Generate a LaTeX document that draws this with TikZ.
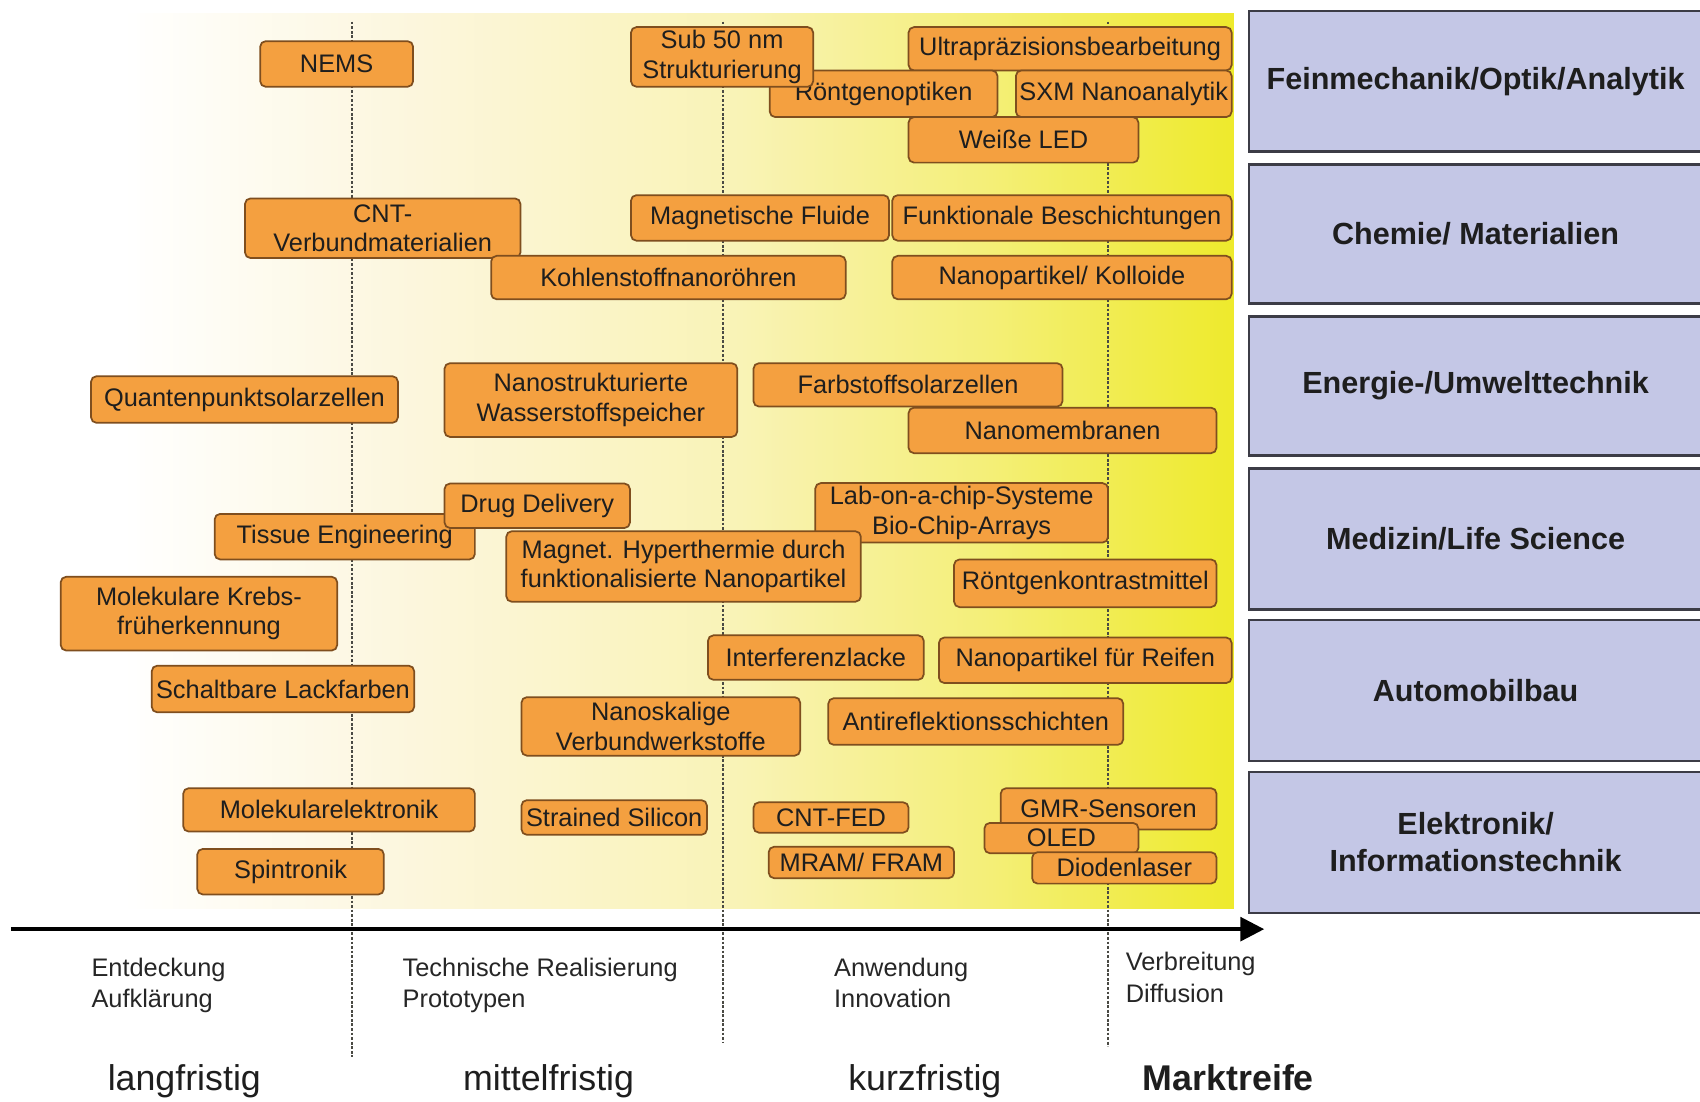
\documentclass[tikz,border=0pt]{standalone}
\usepackage{fontspec}
\setmainfont{Liberation Sans}
\usetikzlibrary{arrows.meta}
\definecolor{cTech}{HTML}{F4A040}
\definecolor{cTechLine}{HTML}{7F4E1E}
\definecolor{cBranch}{HTML}{C4C7E6}
\definecolor{cBranchLine}{HTML}{3C3C46}
\definecolor{cInk}{HTML}{1E1E1E}
\definecolor{cGuide}{HTML}{4A4A44}
\definecolor{cBgA}{HTML}{FCF6DC}
\definecolor{cBgB}{HTML}{F9F3B6}
\definecolor{cBgC}{HTML}{F4EF78}
\definecolor{cBgD}{HTML}{EEEA2C}
\pgfdeclarehorizontalshading{maturity}{100bp}{color(0bp)=(white); color(30bp)=(white); color(42bp)=(cBgA); color(55bp)=(cBgB); color(65bp)=(cBgC); color(75bp)=(cBgD); color(100bp)=(cBgD)}

\begin{document}
\begin{tikzpicture}[
    x=0.5pt, y=-0.5pt,
    font=\fontsize{11.7}{13.5}\selectfont,
    >={Triangle[length=11pt,width=11pt]},
    every node/.style={text=cInk},
    tech/.style={
        rectangle, rounded corners=2.5pt, draw=cTechLine, line width=0.8pt,
        fill=cTech, minimum height=21pt, align=center, inner sep=1.5pt
    },
    branch/.style={
        rectangle, draw=cBranchLine, line width=1.2pt, fill=cBranch,
        minimum width=209pt, minimum height=65pt, align=center,
        font=\fontsize{14.1}{17}\selectfont\bfseries
    },
    guide/.style={draw=cGuide, line width=0.9pt, dash pattern=on 1.3pt off 0.8pt},
    timeaxis/.style={->, draw=black, line width=1.6pt},
    phase/.style={anchor=north west, align=left, inner sep=0pt,
        font=\fontsize{11.7}{14.5}\selectfont, text=black!85},
    horizon/.style={anchor=base, inner sep=0pt, font=\fontsize{16.5}{18}\selectfont},
]

\useasboundingbox (0,0) rectangle (1568,1016);

% =====================================================
% Background and time axis
% =====================================================

\shade[shading=maturity] (0,12) rectangle (1138,838);

\coordinate (g1t) at (325,20);
\coordinate (g1b) at (325,975);
\coordinate (g2t) at (667,20);
\coordinate (g2b) at (667,962);
\coordinate (g3t) at (1022,20);
\coordinate (g3b) at (1022,965);
\draw[guide] (g1t) -- (g1b);
\draw[guide] (g2t) -- (g2b);
\draw[guide] (g3t) -- (g3b);

\coordinate (axisL) at (10,857);
\coordinate (axisR) at (1166,857);
\draw[timeaxis] (axisL) -- (axisR);

% =====================================================
% Feinmechanik / Optik / Analytik
% =====================================================

\node[tech, minimum width=70.5pt] (nems) at (310.5,59) {NEMS};
\node[tech, minimum width=149pt, minimum height=20pt] (ultra) at (987,45) {Ultrapräzisionsbearbeitung};
\node[tech, minimum width=105pt, minimum height=21.5pt] (xopt) at (815,86.5) {Röntgenoptiken};
\node[tech, minimum width=84pt, minimum height=27.5pt] (sub50) at (666,52.5) {Sub 50 nm\\Strukturierung};
\node[tech, minimum width=99.5pt, minimum height=21.5pt] (sxm) at (1036.5,86.5) {SXM Nanoanalytik};
\node[tech, minimum width=106pt] (led) at (944,129) {Weiße LED};

% =====================================================
% Chemie / Materialien
% =====================================================

\node[tech, minimum width=127pt, minimum height=27.5pt] (cnt) at (353,210.5) {CNT-\\Verbundmaterialien};
\node[tech, minimum width=163.5pt, minimum height=20pt] (cnano) at (616.5,256) {Kohlenstoffnanoröhren};
\node[tech, minimum width=119pt] (fluid) at (701,201) {Magnetische Fluide};
\node[tech, minimum width=156.5pt] (coat) at (979.5,201) {Funktionale Beschichtungen};
\node[tech, minimum width=156.5pt, minimum height=20pt] (colloid) at (979.5,256) {Nanopartikel/ Kolloide};

% =====================================================
% Energie / Umwelttechnik
% =====================================================

\node[tech, minimum width=141.5pt, minimum height=21.5pt] (qdot) at (225.5,368.5) {Quantenpunktsolarzellen};
\node[tech, minimum width=135pt, minimum height=34pt] (h2store) at (545,369) {Nanostrukturierte\\Wasserstoffspeicher};
\node[tech, minimum width=142.5pt, minimum height=20pt] (dye) at (837.5,355) {Farbstoffsolarzellen};
\node[tech, minimum width=142pt] (membr) at (980,397) {Nanomembranen};

% =====================================================
% Medizin / Life Science
% =====================================================

\node[tech, minimum width=120pt] (tissue) at (318,495) {Tissue Engineering};
\node[tech, minimum width=85.5pt, minimum height=20.5pt] (drug) at (495.5,466.5) {Drug Delivery};
\node[tech, minimum width=135pt, minimum height=27pt] (lab) at (887,473) {Lab-on-a-chip-Systeme\\Bio-Chip-Arrays};
\node[tech, minimum width=163.5pt, minimum height=32.5pt] (hyper) at (630.5,522.5) {Magnet. Hyperthermie durch\\funktionalisierte Nanopartikel};
\node[tech, minimum width=121pt, minimum height=22pt] (contrast) at (1001,538) {Röntgenkontrastmittel};
\node[tech, minimum width=127.5pt, minimum height=34pt] (cancer) at (183.5,566) {Molekulare Krebs-\\früherkennung};

% =====================================================
% Automobilbau
% =====================================================

\node[tech, minimum width=99.5pt, minimum height=20.5pt] (interf) at (752.5,606.5) {Interferenzlacke};
\node[tech, minimum width=135pt] (tyre) at (1001,609) {Nanopartikel für Reifen};
\node[tech, minimum width=121pt, minimum height=21.5pt] (switch) at (261,635.5) {Schaltbare Lackfarben};
\node[tech, minimum width=128.5pt, minimum height=27pt] (composite) at (609.5,670) {Nanoskalige\\Verbundwerkstoffe};
\node[tech, minimum width=136pt, minimum height=21.5pt] (antiref) at (900,665.5) {Antireflektionsschichten};

% =====================================================
% Elektronik / Informationstechnik
% =====================================================

\node[tech, minimum width=134.5pt, minimum height=20pt] (molel) at (303.5,747) {Molekularelektronik};
\node[tech, minimum width=86pt] (spin) at (268,804) {Spintronik};
\node[tech, minimum width=85.5pt, minimum height=16pt] (strained) at (566.5,754) {Strained Silicon};
\node[tech, minimum width=71.5pt, minimum height=14pt] (cntfed) at (766.5,754) {CNT-FED};
\node[tech, minimum width=85.5pt, minimum height=14.5pt] (mram) at (794.5,795.5) {MRAM/ FRAM};
\node[tech, minimum width=99.5pt, minimum height=19pt] (gmr) at (1022.5,746) {GMR-Sensoren};
\node[tech, minimum width=71pt, minimum height=14pt] (oled) at (979,773) {OLED};
\node[tech, minimum width=85pt, minimum height=14.5pt] (laser) at (1037,800.5) {Diodenlaser};

% =====================================================
% Branch column
% =====================================================

\node[branch] (optics) at (1361,75) {Feinmechanik/Optik/Analytik};
\node[branch, minimum height=64pt] (chem) at (1361,216) {Chemie/ Materialien};
\node[branch, minimum height=64pt] (energy) at (1361,356) {Energie-/Umwelttechnik};
\node[branch] (med) at (1361,497) {Medizin/Life Science};
\node[branch] (auto) at (1361,637) {Automobilbau};
\node[branch] (elec) at (1361,777) {Elektronik/\\Informationstechnik};

% =====================================================
% Phases and horizons
% =====================================================

\node[phase] (ph1) at (84,883) {Entdeckung\\Aufklärung};
\node[phase] (ph2) at (371,883) {Technische Realisierung\\Prototypen};
\node[phase] (ph3) at (769,883) {Anwendung\\Innovation};
\node[phase] (ph4) at (1038,878) {Verbreitung\\Diffusion};

\node[horizon] (hz1) at (170,1006) {langfristig};
\node[horizon] (hz2) at (506,1006) {mittelfristig};
\node[horizon] (hz3) at (853,1006) {kurzfristig};
\node[horizon, font=\fontsize{16.5}{18}\selectfont\bfseries] (hz4) at (1133,1006) {Marktreife};

\end{tikzpicture}
\end{document}
